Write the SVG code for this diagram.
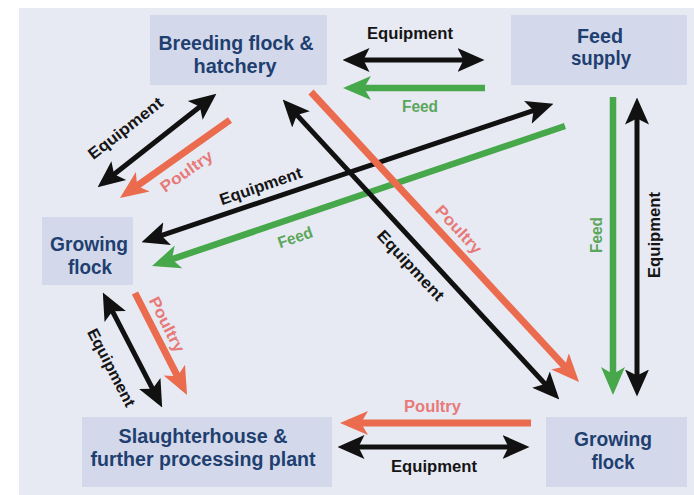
<svg xmlns="http://www.w3.org/2000/svg" width="694" height="495" viewBox="0 0 694 495">
<style>
.bg{fill:#e8eaf3}
.box{fill:#d3d9ea}
.nt{font-family:"Liberation Sans",Arial,sans-serif;font-weight:bold;font-size:20px;fill:#1f3f70;text-anchor:middle}
.lb{font-family:"Liberation Sans",Arial,sans-serif;font-weight:bold;font-size:16px;text-anchor:middle}
.lk{fill:#151515}
.lg{fill:#5aa65a}
.lr{fill:#e77a78}
.k{stroke:#111;stroke-width:5;fill:none}
.g{stroke:#46a84a;stroke-width:6.5;fill:none}
.r{stroke:#ea6b4d;stroke-width:7;fill:none}
</style>
<defs>
<marker id="mk" viewBox="0 -13 27 26" refX="20.5" refY="0" markerWidth="27" markerHeight="26" markerUnits="userSpaceOnUse" orient="auto-start-reverse"><path d="M0,-12 L27,0 L0,12 L6,0 Z" fill="#111"/></marker>
<marker id="mg" viewBox="0 -13 28 26" refX="20" refY="0" markerWidth="28" markerHeight="26" markerUnits="userSpaceOnUse" orient="auto-start-reverse"><path d="M0,-12 L28,0 L0,12 L7,0 Z" fill="#46a84a"/></marker>
<marker id="mr" viewBox="0 -13 28 26" refX="20" refY="0" markerWidth="28" markerHeight="26" markerUnits="userSpaceOnUse" orient="auto-start-reverse"><path d="M0,-12 L28,0 L0,12 L7,0 Z" fill="#ea6b4d"/></marker>
</defs>
<rect x="0" y="0" width="694" height="495" fill="#ffffff"/>
<rect class="bg" x="19" y="8" width="675" height="487"/>

<g id="breeding">
<rect class="box" x="150" y="15" width="177" height="70"/>
<text class="nt" x="236" y="49.5" textLength="155" lengthAdjust="spacingAndGlyphs">Breeding flock &amp;</text>
<text class="nt" x="235" y="72.5" textLength="83" lengthAdjust="spacingAndGlyphs">hatchery</text>
</g>
<g id="feed-supply">
<rect class="box" x="511" y="15" width="176" height="70"/>
<text class="nt" x="600" y="42.5" textLength="46" lengthAdjust="spacingAndGlyphs">Feed</text>
<text class="nt" x="601" y="65" textLength="60" lengthAdjust="spacingAndGlyphs">supply</text>
</g>
<g id="growing-left">
<rect class="box" x="42" y="217" width="91" height="68"/>
<text class="nt" x="89" y="251" textLength="78" lengthAdjust="spacingAndGlyphs">Growing</text>
<text class="nt" x="90" y="274" textLength="44" lengthAdjust="spacingAndGlyphs">flock</text>
</g>
<g id="slaughterhouse">
<rect class="box" x="82" y="417" width="250" height="70"/>
<text class="nt" x="203" y="442.5" textLength="169" lengthAdjust="spacingAndGlyphs">Slaughterhouse &amp;</text>
<text class="nt" x="203" y="465.5" textLength="225" lengthAdjust="spacingAndGlyphs">further processing plant</text>
</g>
<g id="growing-right">
<rect class="box" x="546" y="417" width="141" height="70"/>
<text class="nt" x="613" y="445.5" textLength="78" lengthAdjust="spacingAndGlyphs">Growing</text>
<text class="nt" x="613" y="468.5" textLength="43" lengthAdjust="spacingAndGlyphs">flock</text>
</g>

<g id="connectors">
<!-- breeding <-> feed supply -->
<line class="k" x1="349" y1="60" x2="478" y2="60" marker-start="url(#mk)" marker-end="url(#mk)"/>
<text class="lb lk" x="410" y="39" textLength="86" lengthAdjust="spacingAndGlyphs">Equipment</text>
<line class="g" x1="485" y1="88" x2="351" y2="88" marker-end="url(#mg)"/>
<text class="lb lg" x="420" y="112" textLength="36" lengthAdjust="spacingAndGlyphs">Feed</text>

<!-- breeding <-> growing left -->
<line class="k" x1="211.3" y1="97.7" x2="102.7" y2="183.3" marker-start="url(#mk)" marker-end="url(#mk)"/>
<text class="lb lk" transform="translate(128.8,132.5) rotate(-38)" textLength="90" lengthAdjust="spacingAndGlyphs">Equipment</text>
<line class="r" x1="230" y1="120" x2="126.5" y2="193.4" marker-end="url(#mr)"/>
<text class="lb lr" transform="translate(189.6,175.7) rotate(-35)" textLength="60" lengthAdjust="spacingAndGlyphs">Poultry</text>

<!-- feed supply <-> growing left -->
<line class="k" x1="547.3" y1="105.9" x2="147.7" y2="240.1" marker-start="url(#mk)" marker-end="url(#mk)"/>
<text class="lb lk" transform="translate(262.5,191.3) rotate(-19)" textLength="86" lengthAdjust="spacingAndGlyphs">Equipment</text>
<line class="g" x1="565" y1="126" x2="159.6" y2="263.4" marker-end="url(#mg)"/>
<text class="lb lg" transform="translate(296.9,242.5) rotate(-19)" textLength="36" lengthAdjust="spacingAndGlyphs">Feed</text>

<!-- breeding <-> growing right -->
<line class="k" x1="287.1" y1="104.4" x2="554.9" y2="394.6" marker-start="url(#mk)" marker-end="url(#mk)"/>
<text class="lb lk" transform="translate(406.7,269.1) rotate(47)" textLength="90" lengthAdjust="spacingAndGlyphs">Equipment</text>
<line class="r" x1="311" y1="92" x2="573.6" y2="376.1" marker-end="url(#mr)"/>
<text class="lb lr" transform="translate(454.7,233.1) rotate(47)" textLength="60" lengthAdjust="spacingAndGlyphs">Poultry</text>

<!-- feed supply <-> growing right -->
<line class="g" x1="613" y1="97" x2="613" y2="387" marker-end="url(#mg)"/>
<text class="lb lg" transform="translate(602,235) rotate(-90)" textLength="36" lengthAdjust="spacingAndGlyphs">Feed</text>
<line class="k" x1="637" y1="104" x2="637" y2="390" marker-start="url(#mk)" marker-end="url(#mk)"/>
<text class="lb lk" transform="translate(659.5,235) rotate(-90)" textLength="86" lengthAdjust="spacingAndGlyphs">Equipment</text>

<!-- growing right <-> slaughterhouse -->
<line class="r" x1="531" y1="423" x2="348" y2="423" marker-end="url(#mr)"/>
<text class="lb lr" x="432.5" y="412" textLength="57" lengthAdjust="spacingAndGlyphs">Poultry</text>
<line class="k" x1="344" y1="447" x2="523" y2="447" marker-start="url(#mk)" marker-end="url(#mk)"/>
<text class="lb lk" x="434" y="472" textLength="86" lengthAdjust="spacingAndGlyphs">Equipment</text>

<!-- growing left <-> slaughterhouse -->
<line class="k" x1="105.8" y1="298.3" x2="159.2" y2="401.7" marker-start="url(#mk)" marker-end="url(#mk)"/>
<text class="lb lk" transform="translate(106.5,370.1) rotate(62.6)" textLength="86" lengthAdjust="spacingAndGlyphs">Equipment</text>
<line class="r" x1="135" y1="293" x2="183.4" y2="387.9" marker-end="url(#mr)"/>
<text class="lb lr" transform="translate(162,327) rotate(63)" textLength="60" lengthAdjust="spacingAndGlyphs">Poultry</text>
</g>
</svg>
